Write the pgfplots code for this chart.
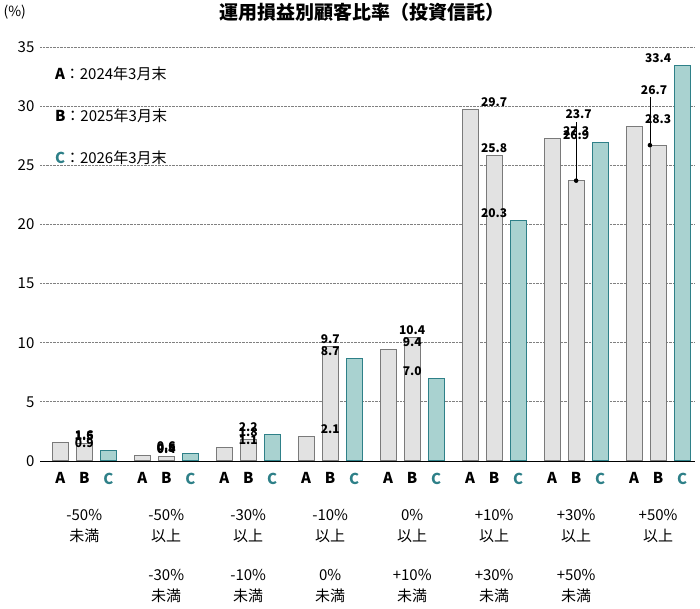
\documentclass[border=0pt]{standalone}
\usepackage{pgfplots}
\pgfplotsset{compat=1.18}
\usepackage{fontspec}
\setmainfont{Noto Sans CJK JP}
\newcommand\cjkb{\bfseries}
\definecolor{teal1}{HTML}{2E8088}
\definecolor{tealf}{HTML}{A9D2D0}
\definecolor{grayf}{HTML}{E2E2E2}
\definecolor{grayb}{HTML}{7A7A7A}
\begin{document}
\begin{tikzpicture}[x=1pt,y=1pt]
\begin{axis}[
  at={(40pt,148pt)}, anchor=south west,
  width=655pt, height=414pt, scale only axis,
  xmin=-0.54, xmax=7.45, ymin=0, ymax=35,
  ytick={0,5,...,35},
  axis x line=bottom, axis y line=left,
  axis line style={-, black, line width=0.8pt},
  y axis line style={draw=none},
  ymajorgrids, grid style={densely dotted, gray, line width=0.8pt},
  yticklabel style={font=\fontsize{15}{15}\selectfont},
  /pgf/number format/assume math mode=true,
  ytick style={draw=none}, xtick style={draw=none},
  xtick={-0.293,0,0.293, 0.707,1,1.293, 1.707,2,2.293, 2.707,3,3.293, 3.707,4,4.293, 4.707,5,5.293, 5.707,6,6.293, 6.707,7,7.293},
  xticklabels={A,B,\textcolor{teal1}{C},A,B,\textcolor{teal1}{C},A,B,\textcolor{teal1}{C},A,B,\textcolor{teal1}{C},A,B,\textcolor{teal1}{C},A,B,\textcolor{teal1}{C},A,B,\textcolor{teal1}{C},A,B,\textcolor{teal1}{C}},
  xticklabel style={font=\cjkb\fontsize{15}{15}\selectfont, yshift=-4pt},
  ybar, bar width=16pt,
  nodes near coords, point meta=explicit symbolic,
  every node near coord/.style={font=\cjkb\fontsize{12}{12}\selectfont, black, yshift=-1pt},
  clip=false,
]
\addplot[bar shift=-24pt, fill=grayf, draw=grayb, line width=1pt] coordinates {
(0,1.6)[1.6] (1,0.5)[0.5] (2,1.1)[1.1] (3,2.1)[2.1] (4,9.4)[9.4] (5,29.7)[29.7] (6,27.3)[27.3] (7,28.3)[28.3]};
\addplot[bar shift=0pt, fill=grayf, draw=grayb, line width=1pt] coordinates {
(0,1.5)[1.5] (1,0.4)[0.4] (2,1.8)[1.8] (3,9.7)[9.7] (4,10.4)[10.4] (5,25.8)[25.8] (6,23.7)[] (7,26.7)[]};
\addplot[bar shift=24pt, fill=tealf, draw=teal1, line width=1pt] coordinates {
(0,0.9)[0.9] (1,0.6)[0.6] (2,2.2)[2.2] (3,8.7)[8.7] (4,7.0)[7.0] (5,20.3)[20.3] (6,26.9)[26.9] (7,33.4)[33.4]};
\draw[black, line width=0.7pt] (axis cs:6,23.7) -- (axis cs:6,28.7);
\fill (axis cs:6,23.7) circle (2.3pt);
\node[font=\cjkb\fontsize{12}{12}\selectfont, anchor=south] at (axis cs:6.03,28.6) {23.7};
\draw[black, line width=0.7pt] (axis cs:6.9,26.7) -- (axis cs:6.9,30.8);
\fill (axis cs:6.9,26.7) circle (2.3pt);
\node[font=\cjkb\fontsize{12}{12}\selectfont, anchor=south] at (axis cs:6.95,30.7) {26.7};
\node[anchor=north west, align=left, font=\fontsize{15}{42}\selectfont] at (axis cs:-0.4,33.6)
 {{\cjkb A}：2024年3月末\\{\cjkb B}：2025年3月末\\{\cjkb\textcolor{teal1}{C}}：2026年3月末};
\pgfplotsinvokeforeach{0,...,7}{
  \coordinate (g#1) at (axis cs:#1,0);}
\end{axis}
\tikzset{gl/.style={anchor=north, align=center, font=\fontsize{15}{21}\selectfont}}
\node[gl] at ([yshift=-45pt]g0) {-50\%\\未満};
\node[gl] at ([yshift=-45pt]g1) {-50\%\\以上};
\node[gl] at ([yshift=-45pt]g2) {-30\%\\以上};
\node[gl] at ([yshift=-45pt]g3) {-10\%\\以上};
\node[gl] at ([yshift=-45pt]g4) {0\%\\以上};
\node[gl] at ([yshift=-45pt]g5) {+10\%\\以上};
\node[gl] at ([yshift=-45pt]g6) {+30\%\\以上};
\node[gl] at ([yshift=-45pt]g7) {+50\%\\以上};
\node[gl] at ([yshift=-105pt]g1) {-30\%\\未満};
\node[gl] at ([yshift=-105pt]g2) {-10\%\\未満};
\node[gl] at ([yshift=-105pt]g3) {0\%\\未満};
\node[gl] at ([yshift=-105pt]g4) {+10\%\\未満};
\node[gl] at ([yshift=-105pt]g5) {+30\%\\未満};
\node[gl] at ([yshift=-105pt]g6) {+50\%\\未満};
\node[anchor=north, font=\cjkb\fontsize{19}{19}\selectfont] at (362pt,609pt) {運用損益別顧客比率（投資信託）};
\node[anchor=north west, font=\fontsize{14}{14}\selectfont] at (0pt,607pt) {(\%)};
\path (0,0) rectangle (700pt,609pt);
\end{tikzpicture}
\end{document}
